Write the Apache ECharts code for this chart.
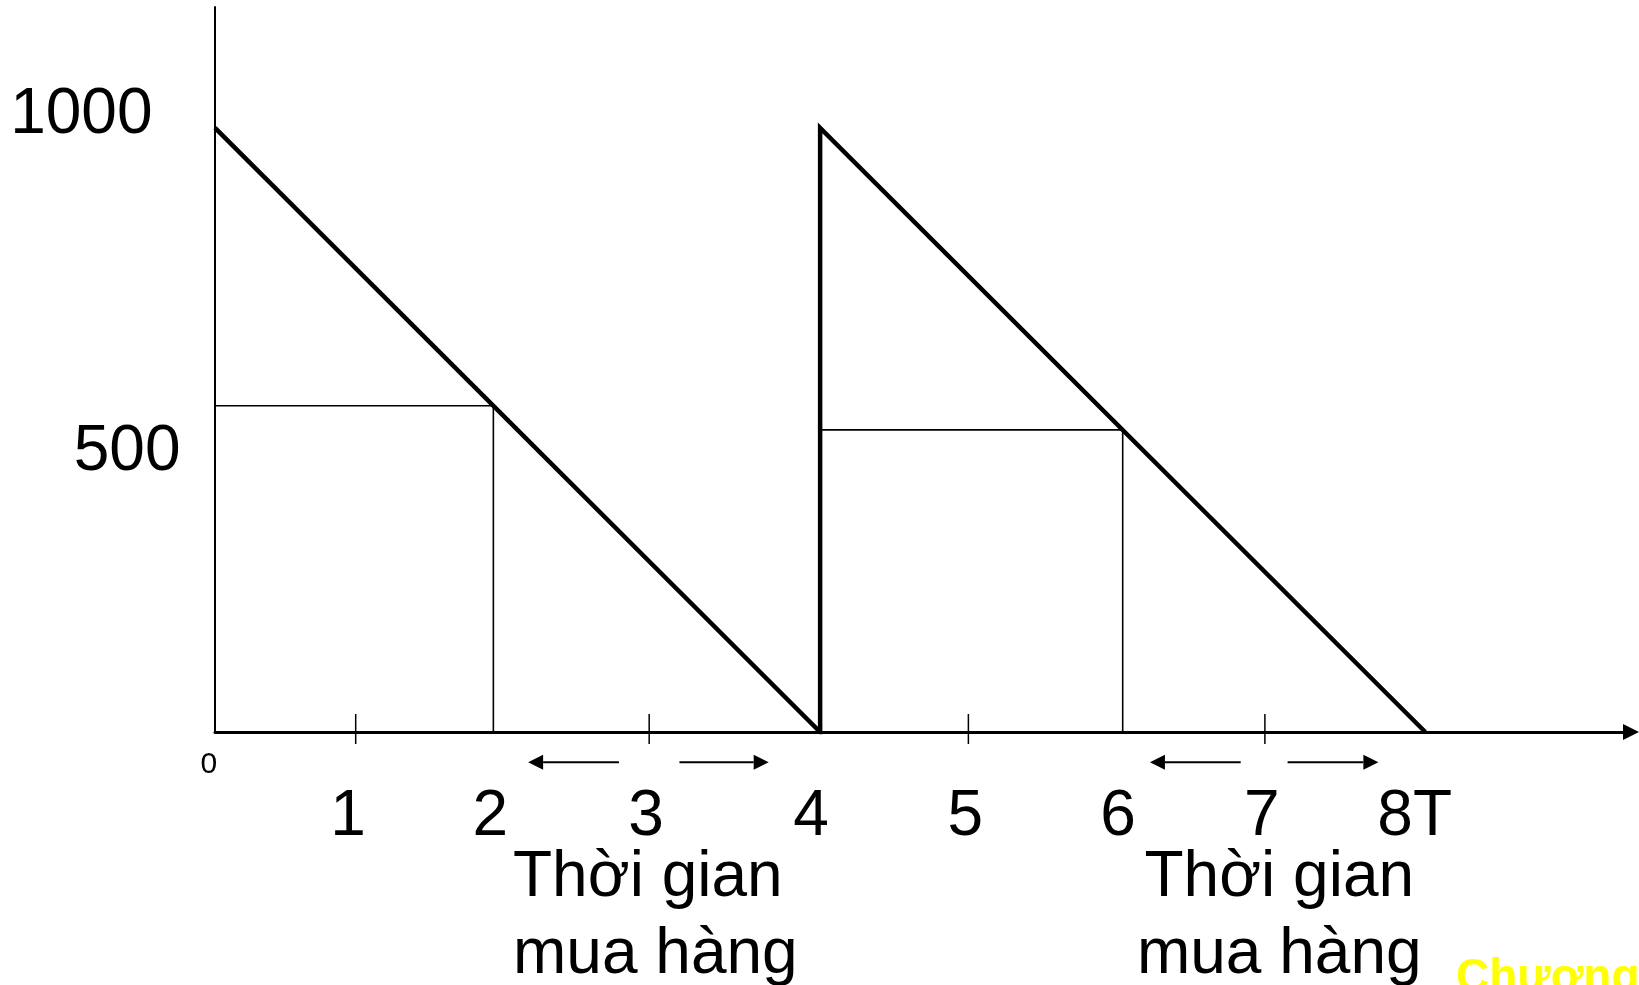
<!DOCTYPE html>
<html>
<head>
<meta charset="utf-8">
<script src="https://cdn.jsdelivr.net/npm/echarts@6/dist/echarts.min.js"></script>
<style>
html,body{margin:0;padding:0;background:#fff;}
#chart{width:1639px;height:985px;}
</style>
</head>
<body>
<div id="chart"></div>
<script>
// ---- data ----
const inventoryCycle = [[0, 1000], [4, 0], [4, 1000], [8, 0]];
const reorderGuide1 = [[0, 540], [1.84, 540], [1.84, 0]];
const reorderGuide2 = [[4, 500], [6, 500], [6, 0]];
const xTickValues = [0.93, 2.87, 4.98, 6.94];
const xLabelTexts = ['1', '2', '3', '4', '5', '6', '7', '8T'];
const xLabelValues = [0.88, 1.82, 2.85, 3.94, 4.96, 5.97, 6.92, 7.93];
const yLabelTexts = ['1000', '500'];
const yLabelValues = [1020, 463];
const originLabel = '0';
const leadTimeArrows = [[2.67, 2.07], [3.07, 3.66], [6.78, 6.18], [7.09, 7.69]];
const leadTimeLines = ['Thời gian', 'mua hàng'];
const leadTimeAnchors = [1.97, 7.035];
const footerText = 'Chương';

// ---- layout constants (styling only) ----
const FONT = '"Liberation Sans", Arial, sans-serif';
const BIG = 64;
const X_LABEL_Y = -141;     // data-y of the x label row
const ARROW_Y = -50;        // data-y of the lead-time arrows
const LEAD_LINE_Y = [-242, -370];

const chart = echarts.init(document.getElementById('chart'), null, {renderer: 'canvas'});

function textItem(x, y, text, size, align, weight) {
  return {
    type: 'text',
    x: x, y: y,
    style: {
      text: text, fill: '#000', font: (weight || 'normal') + ' ' + size + 'px ' + FONT,
      align: align, verticalAlign: 'middle'
    }
  };
}

const option = {
  backgroundColor: '#ffffff',
  animation: false,
  grid: {left: 215, right: 8, top: 7, bottom: 253, containLabel: false},
  xAxis: {
    type: 'value', min: 0, max: 9.36,
    axisLine: {show: true, onZero: false, symbol: ['none', 'triangle'], symbolSize: [16, 16],
      lineStyle: {color: '#000', width: 3}},
    axisTick: {show: false}, axisLabel: {show: false}, splitLine: {show: false}
  },
  yAxis: {
    type: 'value', min: 0, max: 1200,
    axisLine: {show: true, onZero: false, lineStyle: {color: '#000', width: 2}},
    axisTick: {show: false}, axisLabel: {show: false}, splitLine: {show: false}
  },
  graphic: [{
    type: 'text', x: 1456, y: 955,
    style: {text: footerText, fill: '#FFFF00', font: 'bold 46px ' + FONT, align: 'left', verticalAlign: 'top'}
  }],
  series: [
    {
      type: 'line', data: reorderGuide1, symbol: 'none', silent: true, z: 2,
      lineStyle: {color: '#000', width: 1.6}
    },
    {
      type: 'line', data: reorderGuide2, symbol: 'none', silent: true, z: 2,
      lineStyle: {color: '#000', width: 1.6}
    },
    {
      type: 'line', data: inventoryCycle, symbol: 'none', silent: true, z: 3,
      lineStyle: {color: '#000', width: 4.5, join: 'miter'}
    },
    {
      type: 'custom', silent: true, z: 4, clip: false,
      data: xTickValues.map(v => [v, 0]),
      renderItem: function (params, api) {
        const p = api.coord([api.value(0), 0]);
        return {type: 'line', shape: {x1: p[0], y1: p[1] - 18, x2: p[0], y2: p[1] + 12},
          style: {stroke: '#000', lineWidth: 1.5}};
      }
    },
    {
      type: 'custom', silent: true, z: 4, clip: false,
      data: leadTimeArrows.map(a => [a[0], a[1], ARROW_Y]),
      renderItem: function (params, api) {
        const from = api.coord([api.value(0), api.value(2)]);
        const to = api.coord([api.value(1), api.value(2)]);
        const d = to[0] > from[0] ? 1 : -1;
        const head = 15, half = 7.5;
        return {
          type: 'group',
          children: [
            {type: 'line', shape: {x1: from[0], y1: from[1], x2: to[0] - d * head, y2: to[1]},
              style: {stroke: '#000', lineWidth: 2}},
            {type: 'polygon', shape: {points: [[to[0], to[1]], [to[0] - d * head, to[1] - half], [to[0] - d * head, to[1] + half]]},
              style: {fill: '#000'}}
          ]
        };
      }
    },
    {
      type: 'custom', silent: true, z: 5, clip: false,
      data: xLabelValues.map(v => [v, X_LABEL_Y]),
      renderItem: function (params, api) {
        const p = api.coord([api.value(0), api.value(1)]);
        return textItem(p[0], p[1], xLabelTexts[params.dataIndex], BIG, 'center');
      }
    },
    {
      type: 'custom', silent: true, z: 5, clip: false,
      data: yLabelValues.map((v, i) => [i === 0 ? -0.413 : -0.228, v]),
      renderItem: function (params, api) {
        const p = api.coord([api.value(0), api.value(1)]);
        return textItem(p[0], p[1], yLabelTexts[params.dataIndex], BIG, 'right');
      }
    },
    {
      type: 'custom', silent: true, z: 5, clip: false,
      data: [[-0.04, -55]],
      renderItem: function (params, api) {
        const p = api.coord([api.value(0), api.value(1)]);
        return textItem(p[0], p[1], originLabel, 30, 'center');
      }
    },
    {
      type: 'custom', silent: true, z: 5, clip: false,
      data: [[leadTimeAnchors[0], LEAD_LINE_Y[0], 0], [leadTimeAnchors[0], LEAD_LINE_Y[1], 1],
             [leadTimeAnchors[1], LEAD_LINE_Y[0], 0], [leadTimeAnchors[1], LEAD_LINE_Y[1], 1]],
      renderItem: function (params, api) {
        const p = api.coord([api.value(0), api.value(1)]);
        const align = params.dataIndex < 2 ? 'left' : 'center';
        return textItem(p[0], p[1], leadTimeLines[api.value(2)], BIG, align);
      }
    }
  ]
};
chart.setOption(option);
</script>
</body>
</html>
